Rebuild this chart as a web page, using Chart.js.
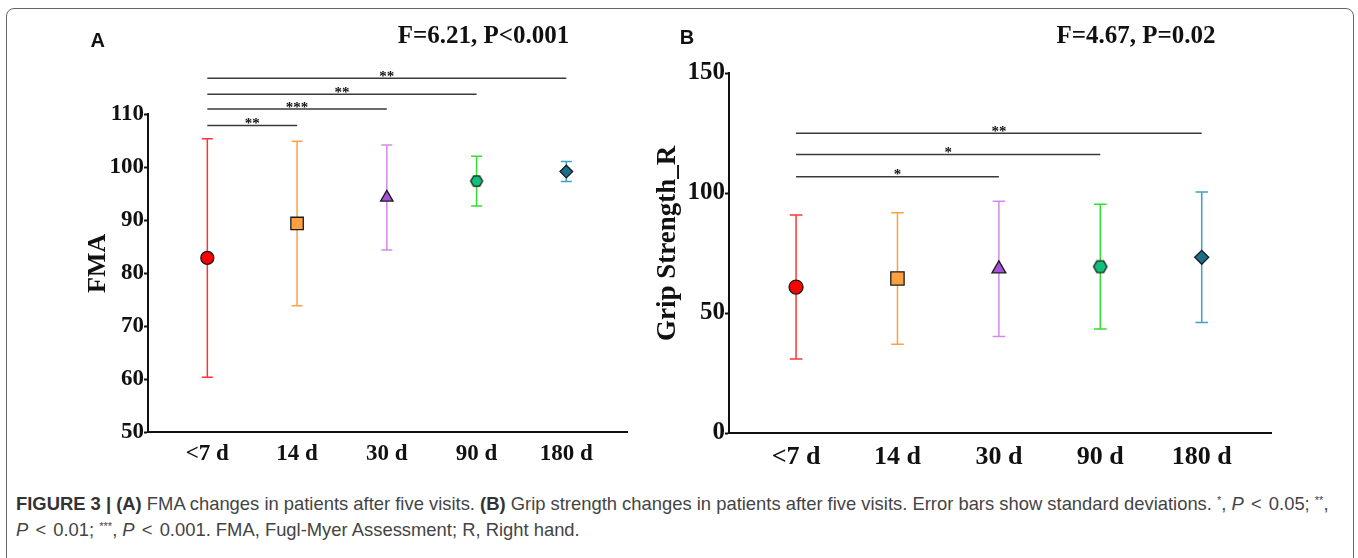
<!DOCTYPE html>
<html>
<head>
<meta charset="utf-8">
<script src="https://cdn.jsdelivr.net/npm/chart.js@4.4.0/dist/chart.umd.min.js"></script>
<style>
  html, body { margin: 0; padding: 0; background: #fff; }
  body { width: 1358px; height: 558px; position: relative; overflow: hidden; }
  #frame { position: absolute; left: 6px; top: 8px; width: 1346px; height: 620px;
           border: 1.5px solid #666; border-radius: 8px; }
  #wrapA { position: absolute; left: 0; top: 0; width: 640px; height: 470px; }
  #wrapB { position: absolute; left: 640px; top: 0; width: 718px; height: 470px; }
  #caption { position: absolute; left: 16px; top: 491px; white-space: nowrap;
             font-family: "Liberation Sans", Arial, sans-serif; font-size: 18.4px;
             line-height: 26px; color: #444; }
  #caption b { color: #333; }
  #caption sup { font-size: 11px; vertical-align: 6px; line-height: 0; }
  #caption .lt { padding: 0 2px; }
</style>
</head>
<body>
<div id="frame"></div>
<div id="wrapA"><canvas id="panelA" width="640" height="470"></canvas></div>
<div id="wrapB"><canvas id="panelB" width="718" height="470"></canvas></div>
<div id="caption"><b>FIGURE 3 | (A)</b> FMA changes in patients after five visits. <b>(B)</b> Grip strength changes in patients after five visits. Error bars show standard deviations. <sup>*</sup>, <i>P</i> <span class="lt">&lt;</span> 0.05; <sup>**</sup>,<br><i>P</i> <span class="lt">&lt;</span> 0.01; <sup>***</sup>, <i>P</i> <span class="lt">&lt;</span> 0.001. FMA, Fugl-Myer Assessment; R, Right hand.</div>
<script>
// visits (x categories)
const visits = ['<7 d', '14 d', '30 d', '90 d', '180 d'];

// panel A: FMA mean +/- SD
const fmaMean = [82.9, 89.4, 94.3, 97.4, 99.2];
const fmaSD = [22.5, 15.5, 9.9, 4.7, 1.9];
const fmaTicks = [50, 60, 70, 80, 90, 100, 110];

// panel B: grip strength (right hand) mean +/- SD
const gripMean = [60.8, 64.4, 68.4, 69.3, 73.2];
const gripSD = [30.0, 27.4, 28.2, 26.0, 27.2];
const gripTicks = [0, 50, 100, 150];

// pairwise comparisons vs <7 d
const fmaCompTo = [1, 2, 3, 4];
const fmaCompLevel = [107.9, 111, 113.8, 116.8];
const fmaCompStars = ['**', '***', '**', '**'];
const gripCompTo = [2, 3, 4];
const gripCompLevel = [106.8, 116, 124.9];
const gripCompStars = ['*', '*', '**'];

const markerFill = ['#ff0000', '#ffa040', '#a552d6', '#10c078', '#1b6f8c'];
const whiskerColor = ['#ff3535', '#ffa040', '#d38ae9', '#33dd33', '#3ea2bf'];

function hexagon(r) {
  const c = document.createElement('canvas');
  const s = Math.ceil(r * 2 + 4);
  c.width = s; c.height = s;
  const g = c.getContext('2d');
  g.beginPath();
  for (let k = 0; k < 6; k++) {
    const a = k * Math.PI / 3;
    const px = s / 2 + r * Math.cos(a), py = s / 2 + r * Math.sin(a);
    k ? g.lineTo(px, py) : g.moveTo(px, py);
  }
  g.closePath();
  g.fillStyle = markerFill[3];
  g.fill();
  g.lineWidth = 1.3;
  g.strokeStyle = '#1a1a1a';
  g.stroke();
  return c;
}

const serif = 'Liberation Serif, Times New Roman, serif';

const extras = {
  id: 'extras',
  beforeDatasetsDraw(chart, args, o) {
    const { ctx, scales: { x, y } } = chart;
    ctx.save();
    ctx.lineWidth = 1.5;
    o.mean.forEach((m, i) => {
      const px = x.getPixelForValue(i);
      const top = y.getPixelForValue(m + o.sd[i]);
      const bot = y.getPixelForValue(m - o.sd[i]);
      ctx.strokeStyle = whiskerColor[i];
      ctx.beginPath();
      ctx.moveTo(px, top); ctx.lineTo(px, bot);
      ctx.moveTo(px - o.cap, top); ctx.lineTo(px + o.cap, top);
      ctx.moveTo(px - o.cap, bot); ctx.lineTo(px + o.cap, bot);
      ctx.stroke();
    });
    ctx.restore();
  },
  afterDraw(chart, args, o) {
    const { ctx, scales: { x, y } } = chart;
    ctx.save();
    // significance brackets
    o.compTo.forEach((t, k) => {
      const x0 = x.getPixelForValue(0), x1 = x.getPixelForValue(t);
      const py = y.getPixelForValue(o.compLevel[k]);
      ctx.strokeStyle = '#3a3a3a';
      ctx.lineWidth = 1.5;
      ctx.beginPath();
      ctx.moveTo(x0, py); ctx.lineTo(x1, py);
      ctx.stroke();
      ctx.fillStyle = '#111';
      ctx.font = 'bold 15px ' + serif;
      ctx.textAlign = 'center';
      ctx.textBaseline = 'alphabetic';
      ctx.fillText(o.compStars[k], (x0 + x1) / 2, py + 2.5);
    });
    // statistic
    ctx.fillStyle = '#111';
    ctx.font = 'bold 25px ' + serif;
    ctx.textAlign = 'center';
    ctx.fillText(o.stat, o.statX, o.statY);
    // panel letter
    ctx.font = 'bold 20px Liberation Sans, Arial, sans-serif';
    ctx.textBaseline = 'middle';
    ctx.fillText(o.letter, o.letterX, o.letterY);
    // y axis title
    ctx.translate(o.titleX, o.titleY);
    ctx.rotate(-Math.PI / 2);
    ctx.font = 'bold ' + o.titleSize + 'px ' + serif;
    ctx.textBaseline = 'alphabetic';
    ctx.fillText(o.title, 0, 0);
    ctx.restore();
  }
};

function panel(id, p) {
  return new Chart(document.getElementById(id), {
    type: 'scatter',
    data: {
      datasets: [{
        data: p.mean.map((m, i) => ({ x: i, y: m })),
        pointStyle: ['circle', 'rect', 'triangle', hexagon(p.hexR), 'rectRot'],
        pointRadius: p.radius,
        pointHoverRadius: p.radius,
        pointBackgroundColor: markerFill,
        pointBorderColor: '#1a1a1a',
        pointBorderWidth: 1.3
      }]
    },
    options: {
      responsive: false,
      animation: false,
      events: [],
      layout: { padding: { left: 0, right: p.padRight, top: p.padTop, bottom: 0 } },
      plugins: {
        legend: { display: false },
        tooltip: { enabled: false },
        extras: p.extras
      },
      scales: {
        x: {
          type: 'linear', min: p.xMin, max: p.xMax,
          afterBuildTicks: s => { s.ticks = visits.map((v, i) => ({ value: i })); },
          afterFit: s => { s.height = p.xHeight; },
          grid: { drawOnChartArea: false, drawTicks: false },
          border: { color: '#111', width: 2 },
          ticks: {
            callback: v => visits[v], color: '#111', padding: p.xPad,
            maxRotation: 0, autoSkip: false,
            font: { family: serif, weight: 'bold', size: p.xFont }
          }
        },
        y: {
          min: p.ticks[0], max: p.ticks[p.ticks.length - 1],
          afterBuildTicks: s => { s.ticks = p.ticks.map(v => ({ value: v })); },
          afterFit: s => { s.width = p.yWidth; },
          grid: { drawOnChartArea: false, drawTicks: true, tickLength: 4, tickColor: '#111', tickWidth: 2 },
          border: { color: '#111', width: 2 },
          ticks: {
            color: '#111', padding: 0,
            font: { family: serif, weight: 'bold', size: p.yFont }
          }
        }
      }
    },
    plugins: [extras]
  });
}

panel('panelA', {
  mean: fmaMean, ticks: fmaTicks, hexR: 6, radius: [6.5, 8.8, 7.2, 6, 6.3],
  padRight: 13, padTop: 114.3, xHeight: 37.7, yWidth: 148,
  xMin: -0.661, xMax: 4.676, xPad: 8, xFont: 23, yFont: 23,
  extras: {
    mean: fmaMean, sd: fmaSD, cap: 5.5,
    compTo: fmaCompTo, compLevel: fmaCompLevel, compStars: fmaCompStars,
    stat: 'F=6.21, P<0.001', statX: 483.5, statY: 43.3,
    letter: 'A', letterX: 97.6, letterY: 41,
    title: 'FMA', titleX: 105, titleY: 263.4, titleSize: 26
  }
});

panel('panelB', {
  mean: gripMean, ticks: gripTicks, hexR: 6.7, radius: [7, 9.4, 8, 6.7, 7],
  padRight: 87, padTop: 73, xHeight: 37, yWidth: 89,
  xMin: -0.661, xMax: 4.683, xPad: 9, xFont: 26, yFont: 25,
  extras: {
    mean: gripMean, sd: gripSD, cap: 6.3,
    compTo: gripCompTo, compLevel: gripCompLevel, compStars: gripCompStars,
    stat: 'F=4.67, P=0.02', statX: 496, statY: 42.7,
    letter: 'B', letterX: 47, letterY: 38.5,
    title: 'Grip Strength_R', titleX: 35, titleY: 243.4, titleSize: 27
  }
});
</script>
</body>
</html>
